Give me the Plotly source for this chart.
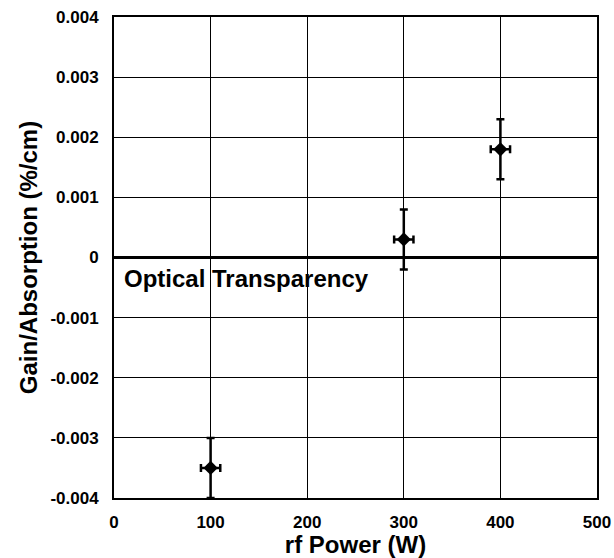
import plotly.graph_objects as go

power = [100, 300, 400]
gain = [-0.0035, 0.0003, 0.0018]
gain_err = [0.0005, 0.0005, 0.0005]
power_err = [10, 10, 10]

x_ticks = [0, 100, 200, 300, 400, 500]
y_ticks = [0.004, 0.003, 0.002, 0.001, 0, -0.001, -0.002, -0.003, -0.004]
y_tick_labels = ["0.004", "0.003", "0.002", "0.001", "0", "-0.001", "-0.002", "-0.003", "-0.004"]

font_family = "Liberation Sans, Arial, sans-serif"

fig = go.Figure()
fig.add_trace(go.Scatter(
    x=power, y=gain, mode="markers",
    marker=dict(symbol="diamond", size=11, color="black"),
    error_y=dict(type="data", array=gain_err, color="black", thickness=2.5, width=4),
    error_x=dict(type="data", array=power_err, color="black", thickness=2.5, width=4),
    showlegend=False,
))

fig.add_annotation(x=8, y=-0.00035, xref="x", yref="y", text="<b>Optical Transparency</b>",
                   showarrow=False, xanchor="left", yanchor="middle",
                   font=dict(family=font_family, size=24, color="black"))

fig.update_layout(
    width=614, height=558,
    margin=dict(l=114, r=17, t=17, b=60),
    paper_bgcolor="white", plot_bgcolor="white",
    font=dict(family=font_family, color="black"),
)
fig.update_xaxes(
    range=[0, 500], tickvals=x_ticks, ticktext=[f"<b>{v}</b>" for v in x_ticks],
    tickfont=dict(size=17), showgrid=True, gridcolor="black", gridwidth=1,
    showline=True, linecolor="black", linewidth=2, mirror=True, ticks="",
    ticklabelstandoff=8, zeroline=False, automargin=False,
    title=dict(text="<b>rf Power (W)</b>", font=dict(size=24), standoff=2),
)
fig.update_yaxes(
    range=[-0.004, 0.004], tickvals=y_ticks, ticktext=[f"<b>{t}</b>" for t in y_tick_labels],
    tickfont=dict(size=17), showgrid=True, gridcolor="black", gridwidth=1,
    showline=True, linecolor="black", linewidth=2, mirror=True, ticks="",
    ticklabelstandoff=10, automargin=False,
    zeroline=True, zerolinecolor="black", zerolinewidth=3,
    title=dict(text="<b>Gain/Absorption (%/cm)</b>", font=dict(size=24), standoff=6),
)

fig.write_html("out.html", config={"displayModeBar": False},
               post_script="document.body.style.margin='0';")
